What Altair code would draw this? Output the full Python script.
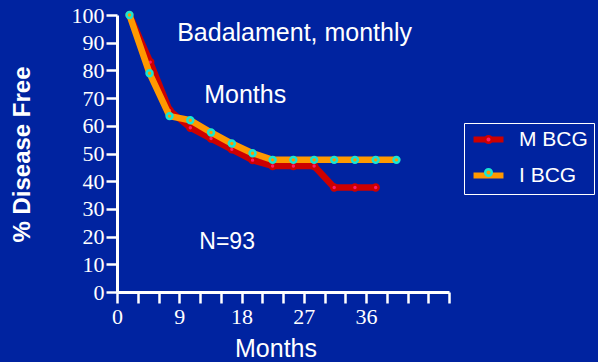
import altair as alt
import pandas as pd

series_names = ["M BCG", "I BCG"]
m_months = [1.8, 4.8, 7.6, 10.6, 13.6, 16.6, 19.6, 22.5, 25.5, 28.5, 31.4, 34.4, 37.4]
m_values = [100, 83, 65.5, 59.3, 55.4, 51.5, 47.6, 45.5, 45.5, 45.5, 37.7, 37.7, 37.7]
i_months = [1.8, 4.7, 7.6, 10.6, 13.6, 16.6, 19.6, 22.5, 25.5, 28.5, 31.4, 34.4, 37.4, 40.4]
i_values = [100, 79, 63.5, 62, 57.6, 53.6, 50.1, 47.7, 47.7, 47.7, 47.7, 47.7, 47.7, 47.7]
x_ticks = list(range(0, 49, 3))
x_labels = [0, 9, 18, 27, 36]
y_ticks = list(range(0, 101, 10))
ann_text = ["Badalament, monthly", "Months", "N=93"]
ann_x = [8.7, 12.6, 11.9]
ann_y = [90.7, 68.2, 15.4]

BG = "#0023A0"
RED = "#CC0000"
PINK = "#FF1A66"
ORANGE = "#FF9900"
CYAN = "#19E6D2"
SANS = "Liberation Sans"
SERIF = "Liberation Serif"

rows = []
for m, v in zip(m_months, m_values):
    rows.append({"series": series_names[0], "grp": "p0", "month": m, "value": v})
for m, v in zip(i_months, i_values):
    rows.append({"series": series_names[1], "grp": "p1", "month": m, "value": v})
df = pd.DataFrame(rows)
ann = pd.DataFrame({"text": ann_text, "month": ann_x, "value": ann_y})

label_expr = "indexof([" + ",".join(str(v) for v in x_labels) + "], datum.value) >= 0 ? datum.label : ''"

x_enc = alt.X(
    "month:Q",
    scale=alt.Scale(domain=[0, 48], nice=False, zero=False),
    axis=alt.Axis(
        values=x_ticks, labelExpr=label_expr, grid=False,
        domainColor="white", domainWidth=3, tickColor="white", tickWidth=2.5, tickSize=11,
        labelFont=SERIF, labelFontSize=22, labelColor="white", labelPadding=3,
        labelFlush=False, labelOverlap=False,
        title="Months", titleFont=SANS, titleFontSize=25, titleFontWeight="normal",
        titleColor="white", titleX=158.5, titleY=56, titleBaseline="middle",
    ),
)
y_enc = alt.Y(
    "value:Q",
    scale=alt.Scale(domain=[0, 100], nice=False),
    axis=alt.Axis(
        values=y_ticks, grid=False,
        domainColor="white", domainWidth=3, tickColor="white", tickWidth=2.5, tickSize=11,
        labelFont=SERIF, labelFontSize=22, labelColor="white", labelPadding=2,
        labelFlush=False, labelOverlap=False,
        title="% Disease Free", titleFont=SANS, titleFontSize=24, titleFontWeight="bold",
        titleColor="white", titleX=-95, titleY=139, titleBaseline="middle",
    ),
)

SYM_SIZE = 196  # scale factor 7 for custom paths
BAR_PATH = "M-2.14,0H2.14"
DOT_PATH = "M0.47,0A0.47,0.47 0 1,1 -0.47,0A0.47,0.47 0 1,1 0.47,0Z"

line_legend = alt.Legend(
    orient="none", legendX=347, legendY=108, title=None,
    symbolType=BAR_PATH, symbolStrokeWidth=6, symbolSize=SYM_SIZE, symbolOffset=8,
    labelFont=SANS, labelFontSize=21, labelColor="white", labelOffset=20,
    padding=6, strokeColor="white", fillColor=BG, rowPadding=11, labelLimit=300,
)
pt_legend = alt.Legend(
    orient="none", legendX=347, legendY=108, title=None,
    symbolType=DOT_PATH, symbolSize=SYM_SIZE, symbolStrokeWidth=2.5, symbolOffset=8,
    labelFont=SANS, labelFontSize=21, labelExpr="''", labelOffset=20,
    padding=6, rowPadding=11, labelLimit=300,
)

base = alt.Chart(df)

lines = base.mark_line(strokeWidth=6.5, strokeJoin="round").encode(
    x=x_enc, y=y_enc,
    color=alt.Color("series:N", scale=alt.Scale(domain=series_names, range=[RED, ORANGE]), legend=line_legend),
)
red_line = lines.transform_filter(alt.datum.series == series_names[0])
org_line = lines.transform_filter(alt.datum.series == series_names[1])

pts = base.mark_circle(size=35, strokeWidth=2.5, opacity=1).encode(
    x=x_enc, y=y_enc,
    fill=alt.Fill("grp:N", scale=alt.Scale(domain=["p0", "p1"], range=[PINK, ORANGE]), legend=pt_legend),
    stroke=alt.Stroke("grp:N", scale=alt.Scale(domain=["p0", "p1"], range=[RED, CYAN]), legend=pt_legend),
)
red_pts = pts.transform_filter(alt.datum.grp == "p0")
org_pts = pts.transform_filter(alt.datum.grp == "p1")

texts_big = alt.Chart(ann).transform_filter(alt.datum.text != "N=93").mark_text(
    align="left", baseline="alphabetic", font=SANS, fontSize=25, color="white"
).encode(x=x_enc, y=y_enc, text="text:N")
texts_small = alt.Chart(ann).transform_filter(alt.datum.text == "N=93").mark_text(
    align="left", baseline="alphabetic", font=SANS, fontSize=23, color="white"
).encode(x=x_enc, y=y_enc, text="text:N")

chart = alt.layer(red_line, red_pts, org_line, org_pts, texts_big, texts_small).properties(
    width=332, height=277,
    padding={"left": 117, "top": 15, "right": 149, "bottom": 70},
    autosize="none", background=BG,
).configure_view(stroke=None).configure_axis(labelOverlap=False)

chart.save("out.html", embed_options={"renderer": "svg", "actions": False})
